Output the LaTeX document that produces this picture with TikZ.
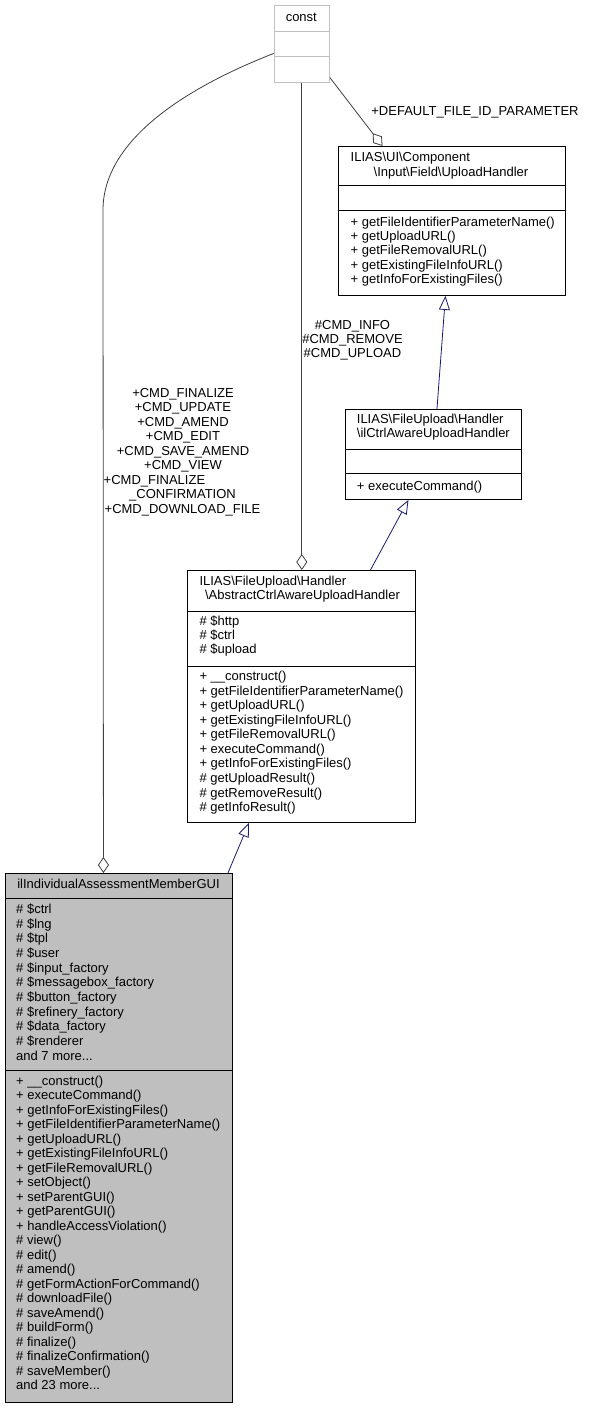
\documentclass[tikz,border=0pt]{standalone}
\usepackage{fontspec}
\setmainfont{Liberation Sans}
\usetikzlibrary{arrows.meta}
\definecolor{edgegray}{HTML}{404040}
\definecolor{navy}{HTML}{191970}
\definecolor{boxgray}{HTML}{BFBFBF}
\definecolor{constgray}{HTML}{C0C0C0}
\newcommand\linesat[6]{%
  \foreach \t [count=\i from 0] in {#6} {\node[txt, anchor=#2] (#1\i) at (#3, {#4+\i*#5}) {\t};}}
\begin{document}
\begin{tikzpicture}[x=1pt,y=-1pt,
  txt/.style={inner sep=0pt, font=\fontsize{13}{14.5}\selectfont, text height=9.4pt, text depth=2.7pt},
  umlbox/.style={draw=black, fill=white, line width=0.9pt, inner sep=0pt, anchor=north west},
  divider/.style={draw=black, line width=0.9pt},
  agg/.style={draw=edgegray, line width=0.8pt, -{Diamond[open, length=16pt, width=11pt, fill=white]}},
  inh/.style={draw=navy, line width=0.8pt, -{Triangle[open, length=14pt, width=11pt, fill=white]}},
]
\fill[white] (0,0) rectangle (589,1409);
\useasboundingbox (0,0) rectangle (589,1409);

% const
\node[umlbox, draw=constgray, minimum width=55.3pt, minimum height=76.7pt] (const) at (273.7,5) {};
\draw[divider, draw=constgray] (273.7,31) -- (329,31);
\draw[divider, draw=constgray] (273.7,56.7) -- (329,56.7);
\node[txt] (constt) at (301.3,18) {const};

% UploadHandler
\node[umlbox, minimum width=227pt, minimum height=149pt] (up) at (338,146) {};
\draw[divider] (338,185.7) -- (565,185.7);
\draw[divider] (338,210.7) -- (565,210.7);
\node[txt, anchor=west] (uph1) at (350.5,158.6) {ILIAS\textbackslash UI\textbackslash Component};
\node[txt] (uph2) at (451,173.1) {\textbackslash Input\textbackslash Field\textbackslash UploadHandler};
\linesat{upm}{west}{350.5}{223}{14.3}{+ getFileIdentifierParameterName(), + getUploadURL(), + getFileRemovalURL(), + getExistingFileInfoURL(), + getInfoForExistingFiles()}

% ilCtrlAwareUploadHandler
\node[umlbox, minimum width=176pt, minimum height=90pt] (ctrl) at (345,409) {};
\draw[divider] (345,449) -- (521,449);
\draw[divider] (345,473) -- (521,473);
\node[txt, anchor=west] (ctrlh1) at (356.7,420.5) {ILIAS\textbackslash FileUpload\textbackslash Handler};
\node[txt, anchor=west] (ctrlh2) at (356.7,434.5) {\textbackslash ilCtrlAwareUploadHandler};
\node[txt, anchor=west] (ctrlm) at (356.7,487) {+ executeCommand()};

% AbstractCtrlAwareUploadHandler
\node[umlbox, minimum width=228pt, minimum height=252pt] (abs) at (187,570) {};
\draw[divider] (187,611) -- (415,611);
\draw[divider] (187,666) -- (415,666);
\node[txt, anchor=west] (absh1) at (199.3,581.7) {ILIAS\textbackslash FileUpload\textbackslash Handler};
\node[txt] (absh2) at (302.5,596) {\textbackslash AbstractCtrlAwareUploadHandler};
\linesat{absa}{west}{199.3}{621.7}{14.3}{\# \$http, \# \$ctrl, \# \$upload}
\linesat{absm}{west}{199.3}{677.3}{14.55}{+ \_\_construct(), + getFileIdentifierParameterName(), + getUploadURL(), + getExistingFileInfoURL(), + getFileRemovalURL(), + executeCommand(), + getInfoForExistingFiles(), \# getUploadResult(), \# getRemoveResult(), \# getInfoResult()}

% ilIndividualAssessmentMemberGUI
\node[umlbox, fill=boxgray, minimum width=227pt, minimum height=529pt] (ind) at (5,873) {};
\draw[divider] (5,898) -- (232,898);
\draw[divider] (5,1070) -- (232,1070);
\node[txt] (indh) at (118.5,885) {ilIndividualAssessmentMemberGUI};
\linesat{inda}{west}{16}{910}{14.67}{\# \$ctrl, \# \$lng, \# \$tpl, \# \$user, \# \$input\_factory, \# \$messagebox\_factory, \# \$button\_factory, \# \$refinery\_factory, \# \$data\_factory, \# \$renderer, {and 7 more.{}..}}
\linesat{indm}{west}{16}{1081.7}{14.52}{+ \_\_construct(), + executeCommand(), + getInfoForExistingFiles(), + getFileIdentifierParameterName(), + getUploadURL(), + getExistingFileInfoURL(), + getFileRemovalURL(), + setObject(), + setParentGUI(), + getParentGUI(), + handleAccessViolation(), \# view(), \# edit(), \# amend(), \# getFormActionForCommand(), \# downloadFile(), \# saveAmend(), \# buildForm(), \# finalize(), \# finalizeConfirmation(), \# saveMember(), {and 23 more.{}..}}

% connectors
\draw[agg] ([yshift=-9.65pt]const.west) .. controls (175,92) and (103,145) .. (103,210) -- ([xshift=-15.5pt]ind.north);
\draw[agg] (const.south) -- (const.south |- abs.north);
\draw[agg] ([yshift=5pt]const.south east) -- ([xshift=-69.5pt]up.north);
\draw[inh] ([xshift=3.5pt]ctrl.north) -- ([xshift=-6.5pt]up.south);
\draw[inh] ([xshift=69pt]abs.north) -- ([xshift=-25pt]ctrl.south);
\draw[inh] ([xshift=109pt]ind.north) -- ([xshift=-52.5pt]abs.south);

% labels
\node[txt] (dfl) at (475,112) {+DEFAULT\_FILE\_ID\_PARAMETER};
\linesat{cmd}{center}{352.5}{326}{14.3}{\#CMD\_INFO, \#CMD\_REMOVE, \#CMD\_UPLOAD}
\linesat{lfa}{center}{183}{394}{14.5}{+CMD\_FINALIZE, +CMD\_UPDATE, +CMD\_AMEND, +CMD\_EDIT, +CMD\_SAVE\_AMEND, +CMD\_VIEW}
\node[txt, anchor=west] (lfb) at (103.5,481) {+CMD\_FINALIZE};
\linesat{lfc}{center}{182.5}{495.5}{14.5}{\_CONFIRMATION, +CMD\_DOWNLOAD\_FILE}
\end{tikzpicture}
\end{document}
